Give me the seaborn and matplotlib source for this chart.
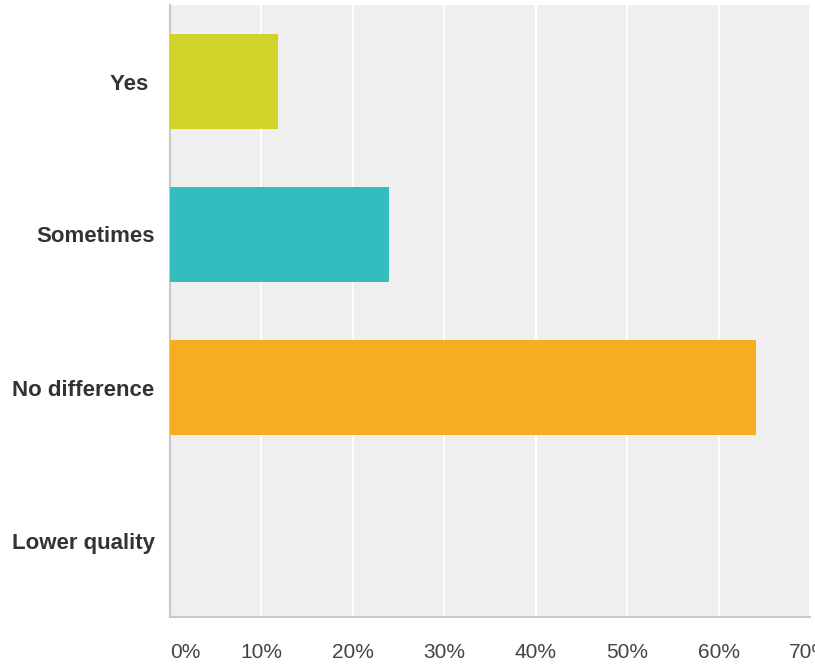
import matplotlib
matplotlib.use("Agg")
import matplotlib.pyplot as plt
import seaborn as sns
import pandas as pd

# Survey answers and share of respondents (%)
answers = ["Yes ", "Sometimes", "No difference", "Lower quality"]
shares = [11.8, 23.9, 64.1, 0.0]
bar_colors = ["#d0d42a", "#33bdbe", "#f5ae1f", "#9c9c9c"]
x_ticks = [0, 10, 20, 30, 40, 50, 60, 70]
x_tick_labels = ["0%", "10%", "20%", "30%", "40%", "50%", "60%", "70%"]

df = pd.DataFrame({"answer": answers, "share": shares})

sns.set_theme(style="white")
plt.rcParams["font.family"] = ["Liberation Sans", "DejaVu Sans"]

fig = plt.figure(figsize=(8.15, 6.66), dpi=100)
ax = fig.add_axes([170 / 815, 1 - 617 / 666, 640 / 815, 612 / 666])
ax.set_facecolor("#efefef")

sns.barplot(data=df, x="share", y="answer", hue="answer", order=answers,
            palette=dict(zip(answers, bar_colors)), legend=False,
            saturation=1, width=0.62, edgecolor="none", ax=ax, zorder=3)

ax.set_xlim(0, 70)
ax.set_xticks(x_ticks)
ax.set_xticklabels(x_tick_labels)
ax.grid(axis="x", color="white", linewidth=1.4, zorder=0)
ax.set_axisbelow(True)
ax.set_xlabel("")
ax.set_ylabel("")

for side in ("top", "right"):
    ax.spines[side].set_visible(False)
ax.spines["left"].set_color("#c8c8c8")
ax.spines["left"].set_linewidth(1.5)
ax.spines["bottom"].set_color("#c8c8c8")
ax.spines["bottom"].set_linewidth(1.5)

ax.tick_params(axis="x", length=0, pad=19, labelsize=15, labelcolor="#444444")
ax.tick_params(axis="y", length=0, pad=11, labelsize=16, labelcolor="#333333")
for lbl in ax.get_yticklabels():
    lbl.set_fontweight("bold")
# the first percentage label starts at the axis line
ax.get_xticklabels()[0].set_horizontalalignment("left")

fig.savefig("out.png", dpi=100)
